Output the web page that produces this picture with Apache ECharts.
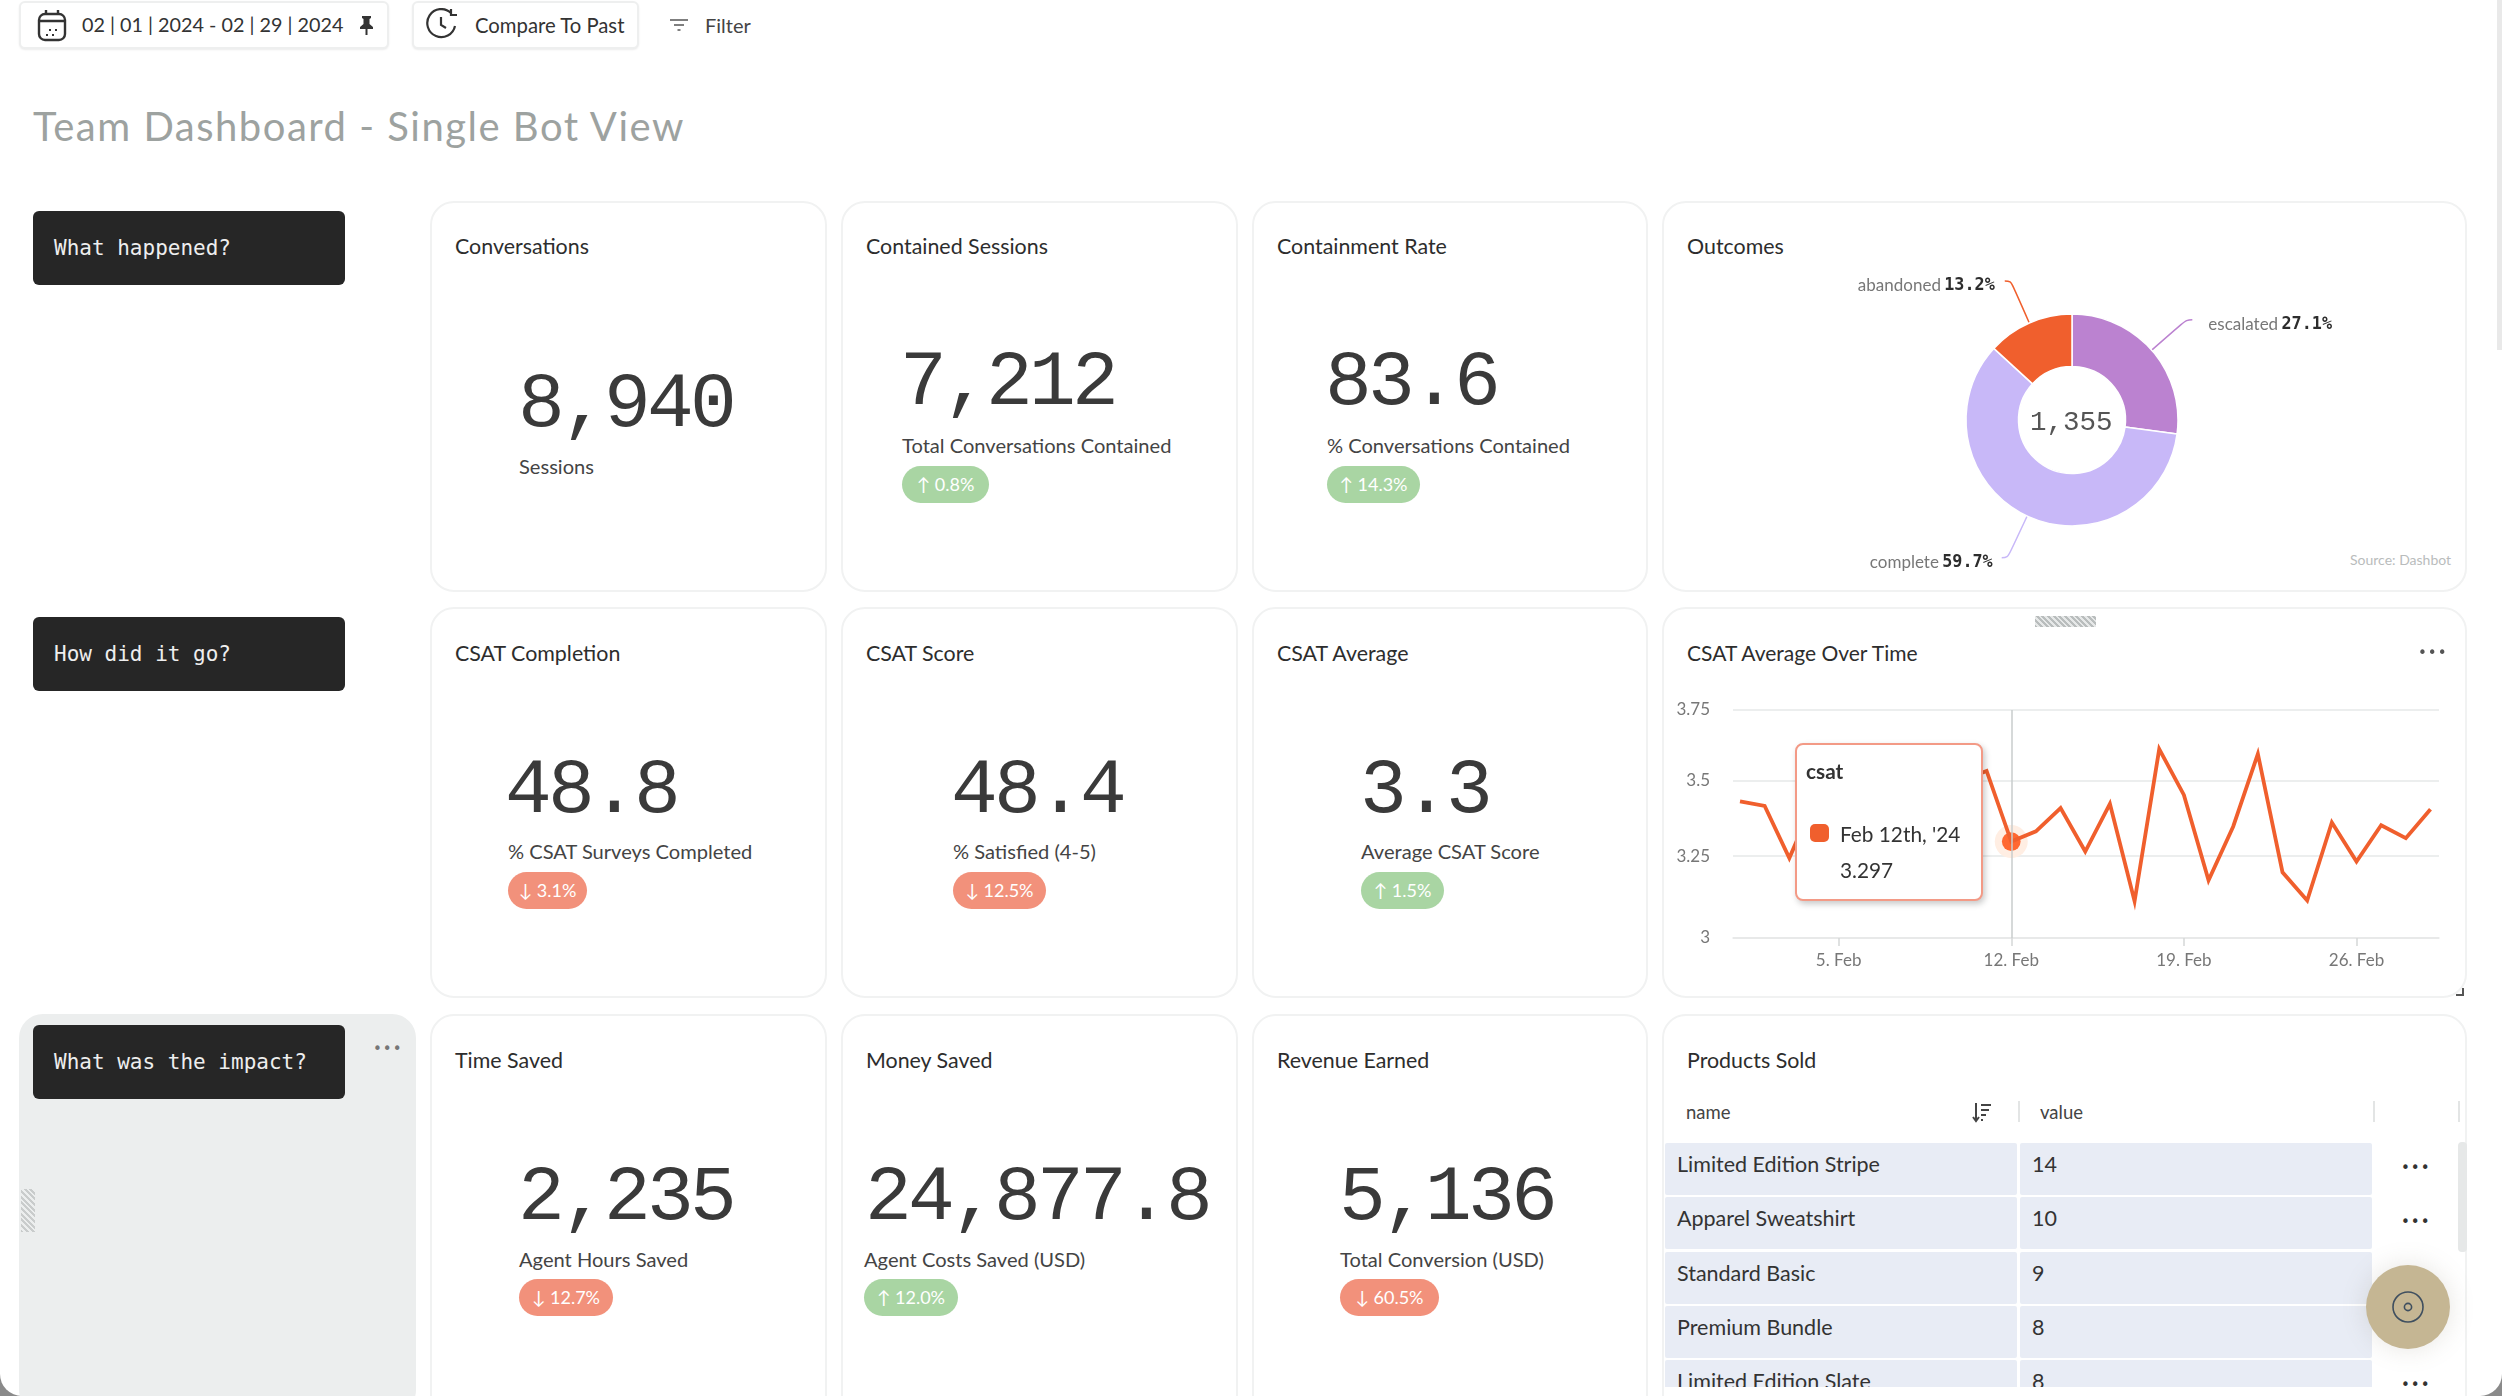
<!DOCTYPE html>
<html>
<head>
<meta charset="utf-8">
<title>Team Dashboard</title>
<script src="https://cdn.jsdelivr.net/npm/echarts@6/dist/echarts.min.js"></script>
<style>
html,body{margin:0;padding:0;background:#8a8a8a;}
#page{position:absolute;left:0;top:0;width:2502px;height:1396px;background:#fff;overflow:hidden;border-radius:0 0 22px 22px;font-family:Lato,sans-serif;color:#333;}
.abs{position:absolute;white-space:nowrap;}
.card{position:absolute;box-sizing:border-box;background:#fff;border:2px solid #f1f2f2;border-radius:24px;}
.btn{position:absolute;box-sizing:border-box;background:#fff;border:2px solid #eeefef;border-radius:6px;box-shadow:0 1px 2px rgba(0,0,0,.08);}
.badge{position:absolute;box-sizing:border-box;background:#262626;border-radius:6px;color:#eee;font-family:"DejaVu Sans Mono",monospace;font-size:21px;padding-left:21px;}
.big{position:absolute;white-space:nowrap;font-family:"Liberation Mono",monospace;font-size:78px;letter-spacing:-3.8px;color:#3a3a3a;line-height:78px;}
.pill{position:absolute;box-sizing:border-box;height:37px;line-height:37px;border-radius:19px;color:#fff;font-size:18px;text-align:center;}
.dots{position:absolute;font-size:15px;letter-spacing:1px;line-height:10px;color:#555;font-family:"DejaVu Sans",sans-serif;}
</style>
</head>
<body>
<div id="page">
	<div id="chart_outcomes" style="position:absolute;left:1663px;top:201px;width:804px;height:391px;z-index:2;"></div>
	<div id="chart_csat" style="position:absolute;left:1663px;top:607px;width:804px;height:391px;z-index:2;"></div>
</div>
<script>
// KPI cards, read left to right, row by row
var kpiTitles = ['Conversations','Contained Sessions','Containment Rate','CSAT Completion','CSAT Score','CSAT Average','Time Saved','Money Saved','Revenue Earned'];
var kpiValues = ['8,940','7,212','83.6','48.8','48.4','3.3','2,235','24,877.8','5,136'];
var kpiLabels = ['Sessions','Total Conversations Contained','% Conversations Contained','% CSAT Surveys Completed','% Satisfied (4-5)','Average CSAT Score','Agent Hours Saved','Agent Costs Saved (USD)','Total Conversion (USD)'];
var kpiChanges = ['','↑ 0.8%','↑ 14.3%','↓ 3.1%','↓ 12.5%','↑ 1.5%','↓ 12.7%','↑ 12.0%','↓ 60.5%'];

var sectionLabels = ['What happened?','How did it go?','What was the impact?'];

// donut
var outcomeNames = ['escalated','complete','abandoned'];
var outcomeShares = [27.1,59.7,13.2];
var outcomeTotal = '1,355';

// csat line. Feb 4th to 10th sit behind the tooltip in the picture, those are guesses
var csatDays = [1,2,3,4,5,6,7,8,9,10,11,12,13,14,15,16,17,18,19,20,21,22,23,24,25,26,27,28,29];
var csatValues = [3.429,3.414,3.244,3.43,3.30,3.41,3.36,3.28,3.45,3.50,3.533,3.297,3.33,3.407,3.265,3.421,3.11,3.609,3.451,3.174,3.346,3.592,3.199,3.112,3.359,3.233,3.35,3.308,3.403];
var csatYTicks = [3,3.25,3.5,3.75];
var csatXTicks = [5,12,19,26];
var csatPicked = 11;

// table
var productNames = ['Limited Edition Stripe','Apparel Sweatshirt','Standard Basic','Premium Bundle','Limited Edition Slate'];
var productValues = [14,10,9,8,8];

var page = document.getElementById('page');

function add(cls,x,y,w,h,css,html) {
	var d = document.createElement('div');
	d.className = cls;
	var s = 'left:'+x+'px;top:'+y+'px;';
	if (w!=null) s += 'width:'+w+'px;';
	if (h!=null) s += 'height:'+h+'px;';
	d.style.cssText = s+(css||'');
	if (html!=null) d.innerHTML = html;
	page.appendChild(d);
	return d;
}
function text(x,yCenter,str,size,color,css) {
	return add('abs',x,yCenter-size,null,size*2,'line-height:'+(size*2)+'px;font-size:'+size+'px;color:'+color+';'+(css||''),str);
}

// top bar
add('btn',19,1,370,48);
add('btn',412,1,227,48);
add('abs',37,9,30,33,'',"<svg width='30' height='33' viewBox='0 0 30 33' fill='none' stroke='#333' stroke-width='2.4'><rect x='2' y='5' width='26' height='26' rx='6'/><path d='M2 12H28M9 1V6M21 1V6' /><path d='M12 21h2M18 21h2M9 26h2M15 26h2' stroke-width='2'/></svg>");
text(82,25,'02 | 01 | 2024 - 02 | 29 | 2024',19.8,'#333');
add('abs',359,16,15,19,'',"<svg width='15' height='19' viewBox='0 0 15 19' fill='#333'><path d='M3 0H12V2L10.5 3V8L14 11V13H8.5V19H6.5V13H1V11L4.5 8V3L3 2Z'/></svg>");
add('abs',426,8,36,32,'',"<svg width='36' height='32' viewBox='0 0 36 32' fill='none' stroke='#333' stroke-width='2.2'><path d='M25 5A14 14 0 1 0 29 18'/><path d='M25 1V7H31M15 9V17L20 20' /></svg>");
text(475,25,'Compare To Past',20.3,'#333');
add('abs',669,17,20,15,'',"<svg width='20' height='15' viewBox='0 0 20 15' stroke='#555' stroke-width='1.6'><path d='M1 2H19M5 7H15M8.5 12H11.5'/></svg>");
text(705,25,'Filter',20,'#444');

text(33,126,'Team Dashboard - Single Bot View',40,'#9da2a0','letter-spacing:1.5px;');

// section labels
var sectionTops = [211,617,1025];
add('abs',19,1014,397,400,'background:#eceeee;border-radius:24px;');
for (var i=0;i<sectionLabels.length;i++) {
	add('badge',33,sectionTops[i],312,74,'line-height:74px;',sectionLabels[i]);
}
add('dots',373,1044,null,null,'color:#777;','•••');
add('abs',21,1189,14,43,'background:repeating-linear-gradient(45deg,#c9cccc 0 2px,#eceeee 2px 4px);');

// cards
var colX = [430,841,1252,1662];
var colW = [397,397,396,805];
var rowY = [201,607,1014];
var rowH = [391,391,420];
var titleY = [246,653,1060];
for (var r=0;r<3;r++) {
	for (var c=0;c<4;c++) {
		add('card',colX[c],rowY[r],colW[c],rowH[r]);
	}
}

// x of big number, x of label, y of number baseline, y of label, y of pill, pill width
var kpiPos = [
	[521,519,430,466,0,0],[903,902,408,445,466,87],[1328,1327,408,445,466,93],
	[508,508,816,851,872,79],[954,953,816,851,872,93],[1363,1361,816,851,872,83],
	[521,519,1223,1259,1279,94],[868,864,1223,1259,1279,94],[1342,1340,1223,1259,1279,99]
];
for (var k=0;k<kpiValues.length;k++) {
	var p = kpiPos[k];
	text(colX[k%3]+25,titleY[Math.floor(k/3)],kpiTitles[k],21.4,'#2d2d2d');
	add('big',p[0]-3,p[2]-64,null,null,'',kpiValues[k]);
	text(p[1],p[3],kpiLabels[k],20.1,'#444');
	if (kpiChanges[k]) {
		var up = kpiChanges[k].charAt(0)=='↑';
		add('pill',p[1],p[4],p[5],null,'background:'+(up?'#a9d5a3':'#f2917b')+';',kpiChanges[k]);
	}
}

// card titles of the right column
text(1687,246,'Outcomes',21.4,'#2d2d2d');
text(1687,653,'CSAT Average Over Time',21,'#2d2d2d');
text(1687,1060,'Products Sold',21.4,'#2d2d2d');
text(2350,560,'Source: Dashbot',14,'#b9bcbc');

// drag handle, dots, resize corner on the csat card
add('abs',2035,616,61,11,'z-index:3;background:repeating-linear-gradient(45deg,#b9bdbd 0 2px,#e6e8e8 2px 4px);');
add('dots',2418,648,null,null,'z-index:3;','•••');
add('abs',2456,988,6,6,'z-index:3;border-right:2px solid #555;border-bottom:2px solid #555;');

// table
text(1686,1112,'name',18.5,'#444');
text(2040,1112,'value',18.5,'#444');
add('abs',1972,1102,20,21,'',"<svg width='20' height='21' viewBox='0 0 20 21' fill='none' stroke='#444' stroke-width='2'><path d='M4 1V18M1 15L4 19L7 15' /><path d='M9 3H19M9 8H17M9 13H14M9 18H11'/></svg>");
var seps = [2018,2373,2458];
for (var s=0;s<seps.length;s++) add('abs',seps[s],1101,2,21,'background:#e3e5e5;');
var tbl = add('abs',1665,1143,802,244,'overflow:hidden;');
for (var t=0;t<productNames.length;t++) {
	var y = t*54.3;
	var row = "<div class='abs' style='left:0;top:"+y+"px;width:352px;height:52px;background:#e8ecf5;border-radius:2px;'></div>"
		+ "<div class='abs' style='left:355px;top:"+y+"px;width:352px;height:52px;background:#e8ecf5;border-radius:2px;'></div>"
		+ "<div class='abs' style='left:12px;top:"+y+"px;line-height:42px;font-size:21.5px;color:#333;'>"+productNames[t]+"</div>"
		+ "<div class='abs' style='left:367px;top:"+y+"px;line-height:42px;font-size:21.5px;color:#333;'>"+productValues[t]+"</div>"
		+ "<div class='dots' style='left:736px;top:"+(y+20)+"px;color:#333;'>•••</div>";
	tbl.insertAdjacentHTML('beforeend',row);
}
add('abs',2458,1142,9,110,'background:#e6e8e8;border-radius:4px;');
add('abs',2366,1265,84,84,'z-index:4;border-radius:50%;background:#c5b693;box-shadow:0 0 26px rgba(120,110,90,.18);',
	"<svg width='84' height='84' viewBox='0 0 84 84' fill='none' stroke='#3f4f5f' stroke-width='1.6'><circle cx='42' cy='42' r='15'/><circle cx='42' cy='42' r='3.6'/></svg>");
add('abs',2497,0,5,350,'background:#e9e9e9;');

// donut
var outcomeChart = echarts.init(document.getElementById('chart_outcomes'));
var outcomeData = [];
var outcomeColors = ['#bb82d0','#c8b8f8','#f05f2d'];
var outcomeLabelGaps = [16,9,10];
for (var i=0;i<outcomeNames.length;i++) {
	outcomeData.push({
		name:outcomeNames[i],
		value:outcomeShares[i],
		itemStyle:{color:outcomeColors[i]},
		label:{distanceToLabelLine:outcomeLabelGaps[i]},
		labelLine:{lineStyle:{color:outcomeColors[i]}}
	});
}
outcomeChart.setOption({
	animation:false,
	graphic:[{type:'text',left:367,top:208,style:{text:outcomeTotal,fontFamily:'Liberation Mono',fontSize:27.5,fill:'#555',letterSpacing:-1}}],
	series:[{
		type:'pie',
		center:[409,219],
		radius:[53.5,106],
		startAngle:90,
		clockwise:true,
		itemStyle:{borderColor:'#fff',borderWidth:1.5},
		data:outcomeData,
		label:{
			padding:[9,0,0,0],
			formatter:function(p){return '{n|'+p.name+'} {p|'+p.value.toFixed(1)+'%}';},
			rich:{
				n:{fontFamily:'Lato',fontSize:17,color:'#777'},
				p:{fontFamily:'DejaVu Sans Mono',fontSize:16.8,fontWeight:'bold',color:'#2d2d2d'}
			}
		},
		labelLine:{show:true,length:46,length2:6,smooth:0.4,lineStyle:{width:1.5}},
		emphasis:{disabled:true}
	}]
});

// csat line
var csatChart = echarts.init(document.getElementById('chart_csat'));
var csatData = [];
for (var i=0;i<csatDays.length;i++) csatData.push([csatDays[i],csatValues[i]]);
var pickedPoint = [csatData[csatPicked]];
csatChart.setOption({
	animation:false,
	grid:{left:70,right:28,top:103,bottom:60},
	tooltip:{
		trigger:'axis',
		alwaysShowContent:true,
		transitionDuration:0,
		padding:0,
		borderWidth:0,
		backgroundColor:'transparent',
		extraCssText:'box-shadow:none;',
		position:[132,136],
		axisPointer:{type:'line',lineStyle:{color:'#c9cccc',width:1.5,type:'solid'}},
		formatter:function() {
			return "<div style='box-sizing:border-box;position:relative;width:188px;height:158px;background:#fff;border:2.5px solid #f39a86;border-radius:8px;box-shadow:2px 3px 6px rgba(0,0,0,.22);font-family:Lato,sans-serif;font-size:20.8px;color:#333;'>"
				+ "<div style='position:absolute;left:9px;top:14px;font-weight:bold;line-height:24px;'>csat</div>"
				+ "<div style='position:absolute;left:13px;top:79px;width:19px;height:18px;border-radius:5px;background:#f05f2d;'></div>"
				+ "<div style='position:absolute;left:43px;top:77px;line-height:24px;white-space:nowrap;'>Feb 12th, '24</div>"
				+ "<div style='position:absolute;left:43px;top:113px;line-height:24px;'>"+csatValues[csatPicked]+"</div></div>";
		}
	},
	xAxis:{
		type:'value',
		min:0.716,
		max:29.345,
		axisLine:{lineStyle:{color:'#e6e8e8',width:1.5}},
		axisTick:{show:true,customValues:csatXTicks,length:8,lineStyle:{color:'#d5d8d8',width:1.5}},
		axisLabel:{
			customValues:csatXTicks,
			color:'#777',fontFamily:'Lato',fontSize:17,margin:14,
			formatter:function(v){return v+'. Feb';}
		},
		splitLine:{show:false}
	},
	yAxis:{
		type:'log',
		logBase:10,
		min:3,
		max:3.75,
		axisLine:{show:false},
		axisTick:{show:false,customValues:csatYTicks},
		axisLabel:{customValues:csatYTicks,color:'#777',fontFamily:'Lato',fontSize:17,margin:23,padding:[5,0,0,0],formatter:function(v){return String(+(+v).toFixed(2));}},
		splitLine:{show:true,lineStyle:{color:'#e6e8e8',width:1.5}}
	},
	series:[
		{type:'line',data:csatData,symbol:'none',lineStyle:{color:'#f05f2d',width:3.8,join:'miter'},emphasis:{disabled:true}},
		{type:'scatter',data:pickedPoint,symbolSize:30,itemStyle:{color:'#f9d9cf',opacity:1},silent:true},
		{type:'scatter',data:pickedPoint,symbolSize:17,itemStyle:{color:'#f05f2d',opacity:1},silent:true}
	]
});
csatChart.dispatchAction({type:'showTip',seriesIndex:0,dataIndex:csatPicked});
</script>
</body>
</html>
